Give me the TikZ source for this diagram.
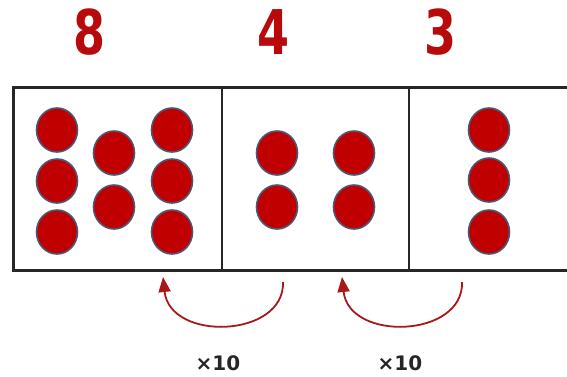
\documentclass[tikz,border=0pt]{standalone}
\usepackage{fontspec}
\setmainfont{DejaVu Sans}
\usetikzlibrary{arrows.meta,shapes.geometric}
\definecolor{counterred}{HTML}{C00000}
\definecolor{digitred}{HTML}{B80A0A}
\definecolor{rimblue}{HTML}{4A5878}
\definecolor{arcred}{HTML}{A81818}
\begin{document}
\begin{tikzpicture}[x=1pt,y=-1pt,
  counter/.style={ellipse,draw=rimblue,fill=counterred,line width=1.6pt,
    minimum width=41pt,minimum height=44pt,inner sep=0pt},
  placedigit/.style={text=digitred,font=\bfseries\fontsize{46}{46}\selectfont,
    yscale=1.34,inner sep=0pt},
  factor/.style={text=black!85,font=\bfseries\fontsize{20}{20}\selectfont,inner sep=0pt},
  regroup/.style={draw=arcred,line width=1.8pt,-{Triangle[length=15pt,width=12pt]}}]
\useasboundingbox (0,0) rectangle (567,376);
\fill[white] (0,0) rectangle (567,376);

% place-value headings
\node[placedigit] (hundreds) at (90,32) {8};
\node[placedigit] (tens)     at (273,32) {4};
\node[placedigit] (ones)     at (440,32) {3};

% place-value chart
\draw[line width=3pt,black!85] (567,87) -- (13,87) -- (13,270) -- (567,270);
\draw[line width=2pt,black!85] (222,87) -- (222,270);
\draw[line width=2pt,black!85] (409,87) -- (409,270);

% hundreds counters
\node[counter] (h1) at (57,130) {};
\node[counter] (h2) at (57,181) {};
\node[counter] (h3) at (57,232) {};
\node[counter] (h4) at (114,153) {};
\node[counter] (h5) at (114,207) {};
\node[counter] (h6) at (172,130) {};
\node[counter] (h7) at (172,181) {};
\node[counter] (h8) at (172,232) {};

% tens counters
\node[counter] (t1) at (277,153) {};
\node[counter] (t2) at (277,207) {};
\node[counter] (t3) at (354,153) {};
\node[counter] (t4) at (354,207) {};

% ones counters
\node[counter] (o1) at (489,130) {};
\node[counter] (o2) at (489,180) {};
\node[counter] (o3) at (489,232) {};

% regrouping arrows
\coordinate (a1s) at (283,282);
\coordinate (a1e) at (163,277);
\coordinate (a2s) at (462,282);
\coordinate (a2e) at (342,277);
\draw[regroup] (a1s) .. controls (285,338) and (170,342) .. (a1e);
\draw[regroup] (a2s) .. controls (464,338) and (349,342) .. (a2e);

\node[factor] (x1) at (218,363) {×10};
\node[factor] (x2) at (400,363) {×10};
\end{tikzpicture}
\end{document}
